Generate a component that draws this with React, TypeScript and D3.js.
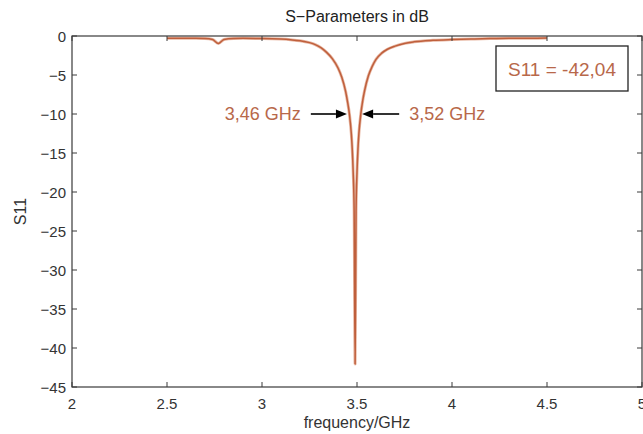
import React from "react";
import * as d3 from "d3";

const freqs = [
  2.5, 2.55, 2.6, 2.65, 2.7, 2.74, 2.77, 2.8, 2.85, 2.9, 3.0, 3.1, 3.15, 3.2,
  3.25, 3.28, 3.31, 3.34, 3.37, 3.4, 3.42, 3.44, 3.45, 3.46, 3.47, 3.475, 3.48,
  3.485, 3.49, 3.495, 3.5, 3.505, 3.51, 3.52, 3.53, 3.54, 3.56, 3.58, 3.6, 3.63,
  3.66, 3.7, 3.75, 3.8, 3.9, 4.0, 4.1, 4.2, 4.3, 4.4, 4.5,
];
const s11 = [
  -0.3, -0.28, -0.3, -0.3, -0.32, -0.45, -0.95, -0.45, -0.32, -0.3, -0.32, -0.4,
  -0.48, -0.6, -0.85, -1.1, -1.5, -2.1, -2.9, -4.1, -5.3, -7.1, -8.4, -10.0,
  -12.5, -14.5, -17.5, -22.5, -42.04, -22.5, -17.5, -14.5, -12.5, -10.0, -8.3,
  -7.0, -5.1, -3.9, -3.0, -2.2, -1.7, -1.3, -0.95, -0.75, -0.55, -0.45, -0.38,
  -0.33, -0.3, -0.28, -0.27,
];
const xTicks = [2, 2.5, 3, 3.5, 4, 4.5, 5];
const yTicks = [0, -5, -10, -15, -20, -25, -30, -35, -40, -45];
const markers = [
  { label: "3,46 GHz", tipF: 3.447, tailF: 3.257, db: -10, side: "left" },
  { label: "3,52 GHz", tipF: 3.527, tailF: 3.722, db: -10, side: "right" },
];
const minLabel = "S11 = -42,04";

const W = 643;
const H = 434;
const FONT = "'Liberation Sans', Arial, Helvetica, sans-serif";
const AXIS = "#3a3a3a";
const CURVE = "#bf5f3c";
const ANN = "#b8684a";

export default function App() {
  const x = d3.scaleLinear().domain([2, 5]).range([72, 642]);
  const y = d3.scaleLinear().domain([-45, 0]).range([387, 36]);
  const data = freqs.map((f, i) => [f, s11[i]] as [number, number]);
  const line = d3
    .line<[number, number]>()
    .x((d) => x(d[0]))
    .y((d) => y(d[1]))
    .curve(d3.curveMonotoneX);
  const path = line(data) || "";
  const fmt = (v: number) => (v < 0 ? "\u2212" + Math.abs(v) : String(v));
  const [x0, x1] = x.range();
  const [y0, y1] = y.range();
  const tl = 5;

  return (
    <svg
      width={W}
      height={H}
      style={{ position: "absolute", left: 0, top: 0, background: "#fff" }}
      fontFamily={FONT}
    >
      <rect x={0} y={0} width={W} height={H} fill="#fff" />
      {/* title */}
      <text x={(x0 + x1) / 2} y={22} textAnchor="middle" fontSize={16} fill="#222">
        S{"\u2212"}Parameters in dB
      </text>
      {/* curve */}
      <path d={path} fill="none" stroke="#e8b8a4" strokeWidth={3} strokeLinejoin="round" />
      <path d={path} fill="none" stroke={CURVE} strokeWidth={1.5} strokeLinejoin="round" />
      {/* frame */}
      <rect
        x={x0}
        y={y1}
        width={x1 - x0}
        height={y0 - y1}
        fill="none"
        stroke={AXIS}
        strokeWidth={1.2}
      />
      {/* x ticks */}
      {xTicks.map((t) => (
        <g key={"x" + t}>
          <line x1={x(t)} x2={x(t)} y1={y0} y2={y0 - tl} stroke={AXIS} />
          <line x1={x(t)} x2={x(t)} y1={y1} y2={y1 + tl} stroke={AXIS} />
          <text x={x(t)} y={409} textAnchor="middle" fontSize={15} fill="#333">
            {fmt(t)}
          </text>
        </g>
      ))}
      {/* y ticks */}
      {yTicks.map((t) => (
        <g key={"y" + t}>
          <line x1={x0} x2={x0 + tl} y1={y(t)} y2={y(t)} stroke={AXIS} />
          <line x1={x1} x2={x1 - tl} y1={y(t)} y2={y(t)} stroke={AXIS} />
          <text
            x={66}
            y={y(t)}
            textAnchor="end"
            dominantBaseline="central"
            fontSize={15}
            fill="#333"
          >
            {fmt(t)}
          </text>
        </g>
      ))}
      {/* axis labels */}
      <text x={(x0 + x1) / 2} y={428} textAnchor="middle" fontSize={16} fill="#333">
        frequency/GHz
      </text>
      <text
        transform={`translate(26,${(y0 + y1) / 2}) rotate(-90)`}
        textAnchor="middle"
        fontSize={16}
        fill="#333"
      >
        S11
      </text>
      {/* markers */}
      {markers.map((m) => {
        const tip = x(m.tipF);
        const tail = x(m.tailF);
        const yy = y(m.db);
        const dir = tip > tail ? 1 : -1;
        const hl = 11;
        const hw = 4.5;
        return (
          <g key={m.label}>
            <line x1={tail} x2={tip - dir * hl} y1={yy} y2={yy} stroke="#000" strokeWidth={1.6} />
            <path
              d={`M${tip},${yy} L${tip - dir * hl},${yy - hw} L${tip - dir * hl},${yy + hw} Z`}
              fill="#000"
            />
            <text
              x={m.side === "left" ? tail - 10 : tail + 10}
              y={yy}
              dominantBaseline="central"
              textAnchor={m.side === "left" ? "end" : "start"}
              fontSize={18}
              fill={ANN}
            >
              {m.label}
            </text>
          </g>
        );
      })}
      {/* min box */}
      <rect x={496} y={46} width={132} height={45} fill="#fff" stroke="#222" strokeWidth={1.3} />
      <text x={562} y={69} textAnchor="middle" dominantBaseline="central" fontSize={19} fill={ANN}>
        {minLabel}
      </text>
    </svg>
  );
}
